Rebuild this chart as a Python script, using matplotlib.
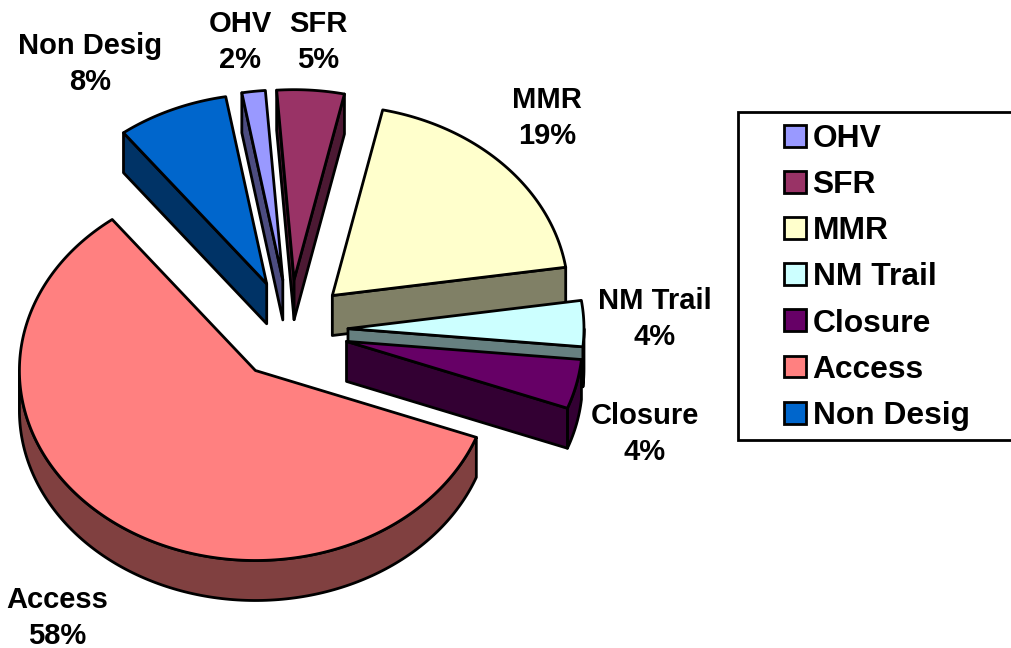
# -*- coding: utf-8 -*-
import numpy as np
import matplotlib
matplotlib.use('Agg')
from matplotlib import pyplot as plt
from matplotlib.patches import Polygon, Patch, Rectangle

plt.rcParams['font.family'] = ['Liberation Sans', 'DejaVu Sans']
plt.rcParams['font.weight'] = 'bold'

# values, in legend / clockwise order
names = ['OHV', 'SFR', 'MMR', 'NM Trail', 'Closure', 'Access', 'Non Desig']
values = [1.6, 4.6, 19.2, 3.9, 4.2, 58.9, 7.6]
percent_labels = [2, 5, 19, 4, 4, 58, 8]
top_colors = ['#9999FF', '#993366', '#FFFFCC', '#CCFFFF', '#660066', '#FF8080', '#0066CC']
side_colors = ['#4C4C80', '#4C1933', '#808066', '#668080', '#330033', '#804040', '#003366']

# pie geometry in pixels
cx, cy = 290, 330
rx, ry = 236, 190
depth = 40
explode = 58
explode_ysq = 0.87
start = -10.0
lw = 2.0

# label centres, same order as names
label_x = [240, 318, 547, 655, 645, 57, 90]
label_y = [42, 42, 118, 319, 434, 618, 64]

fig = plt.figure(figsize=(10.11, 6.48), dpi=100)
ax = fig.add_axes([0, 0, 1, 1])
ax.set_xlim(0, 1011)
ax.set_ylim(648, 0)
ax.axis('off')


def rim(x0, y0, a, b):
    n = max(int(b - a) + 2, 2)
    t = np.radians(np.linspace(a, b, n))
    return np.column_stack((x0 + rx*np.sin(t), y0 - ry*np.cos(t)))


def face(pts, color, z):
    ax.add_patch(Polygon(pts, closed=True, fc=color, ec='k', lw=lw,
                         joinstyle='round', zorder=z))


angles = start + np.concatenate(([0], np.cumsum(values))) * 3.6

# back slices first, Access goes on top of everything
order = [0, 1, 6, 2, 3, 4, 5]
z = 1
for i in order:
    a, b = angles[i], angles[i+1]
    mid = np.radians((a + b)/2)
    x0 = cx + explode*np.sin(mid)
    y0 = cy - explode*explode_ysq*np.cos(mid)
    down = np.array([0, depth])
    apex = np.array([x0, y0])

    # outer wall, only the front half of the ellipse shows
    lo, hi = max(a, 90), min(b, 270)
    if hi > lo:
        arc = rim(x0, y0, lo, hi)
        face(np.vstack((arc, (arc + down)[::-1])), side_colors[i], z)
        z += 1
    # cut faces, only the ones turned to the viewer
    for ang, vis in ((a, np.sin(np.radians(a)) < 0), (b, np.sin(np.radians(b)) > 0)):
        if vis:
            p = rim(x0, y0, ang, ang)[0]
            face([apex, p, p + down, apex + down], side_colors[i], z)
            z += 1
    # top
    face(np.vstack(([apex], rim(x0, y0, a, b))), top_colors[i], z)
    z += 1

for i in range(len(names)):
    ax.text(label_x[i], label_y[i], '%s\n%d%%' % (names[i], percent_labels[i]),
            ha='center', va='center', fontsize=21, fontweight='bold',
            linespacing=1.36, zorder=100)

# legend frame runs off the right side of the picture
ax.add_patch(Rectangle((737.5, 111.5), 300, 328, fc='white', ec='k', lw=2.0, zorder=100))
handles = [Patch(fc=top_colors[i], ec='k', lw=2.0) for i in range(len(names))]
leg = ax.legend(handles, names, loc='upper left', bbox_to_anchor=(784, 124),
                bbox_transform=ax.transData, frameon=False, fontsize=22.9,
                handlelength=0.68, handleheight=0.68, handletextpad=0.22,
                labelspacing=0.507, borderpad=0, borderaxespad=0)
leg.set_zorder(101)

fig.savefig('out.png', dpi=100)
